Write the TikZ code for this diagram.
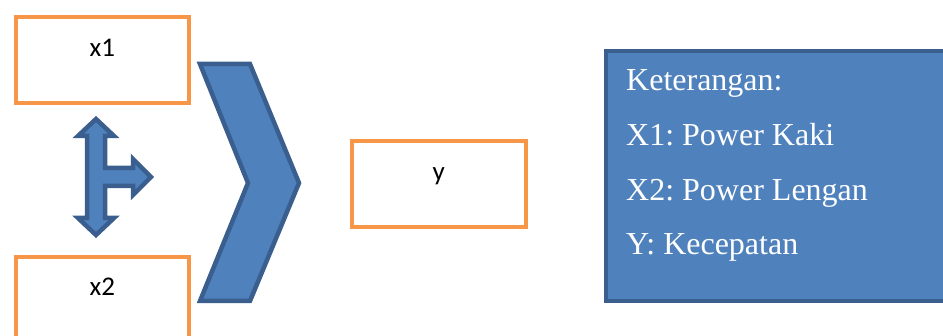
\documentclass[tikz,border=0pt]{standalone}
\usepackage{fontspec}
\usetikzlibrary{calc}
\setmainfont{Liberation Serif}
\newfontfamily\boxfont{Carlito}
\definecolor{boxorange}{HTML}{F79646}
\definecolor{shapefill}{HTML}{4F81BD}
\definecolor{shapeline}{HTML}{3A5F8E}
\begin{document}
\frenchspacing
\begin{tikzpicture}[x=1pt,y=-1pt,
  valbox/.style={draw=boxorange, line width=4pt, fill=white, anchor=north west,
    minimum width=173.5pt, minimum height=86pt, inner sep=0pt},
  boxtext/.style={anchor=base, font=\boxfont\fontsize{27}{32}\selectfont, inner sep=0pt},
  blueshape/.style={fill=shapefill, draw=shapeline, line width=4.5pt, line join=miter},
  legendtext/.style={anchor=base west, text=white, font=\fontsize{32}{38}\selectfont, inner sep=0pt}]
\useasboundingbox (0,0) rectangle (943,336);
\clip (0,0) rectangle (943,336);

% input and output boxes
\node[valbox] (x1) at (13.5,15.5) {};
\node[valbox] (x2) at (13.5,255) {};
\node[valbox] (y) at (350,139.5) {};
\node[boxtext] (x1t) at ($(x1.north)+(0,41)$) {x1};
\node[boxtext] (x2t) at ($(x2.north)+(0,41)$) {x2};
\node[boxtext] (yt) at ($(y.north)+(0,41)$) {y};

% up-down-right arrow between the inputs
\draw[blueshape] (96,119) -- (114,136) -- (105,136) -- (105,168) -- (133,168)
  -- (133,159) -- (151,177) -- (133,195) -- (133,186) -- (105,186) -- (105,218)
  -- (114,218) -- (96,235) -- (78,218) -- (87,218) -- (87,136) -- (78,136) -- cycle;

% chevron
\draw[blueshape] (200,64) -- (250,64) -- (299,183) -- (250,301) -- (200,301)
  -- (248,183) -- cycle;

% legend
\node[fill=shapefill, draw=shapeline, line width=4pt, anchor=north west,
  minimum width=360pt, minimum height=250pt, inner sep=0pt] (legend) at (604,49) {};
\node[legendtext] (l1) at (626,91) {Keterangan:};
\node[legendtext] (l2) at (626,146) {X1: Power Kaki};
\node[legendtext] (l3) at (626,201) {X2: Power Lengan};
\node[legendtext] (l4) at (626,255) {Y: Kecepatan};
\end{tikzpicture}
\end{document}
